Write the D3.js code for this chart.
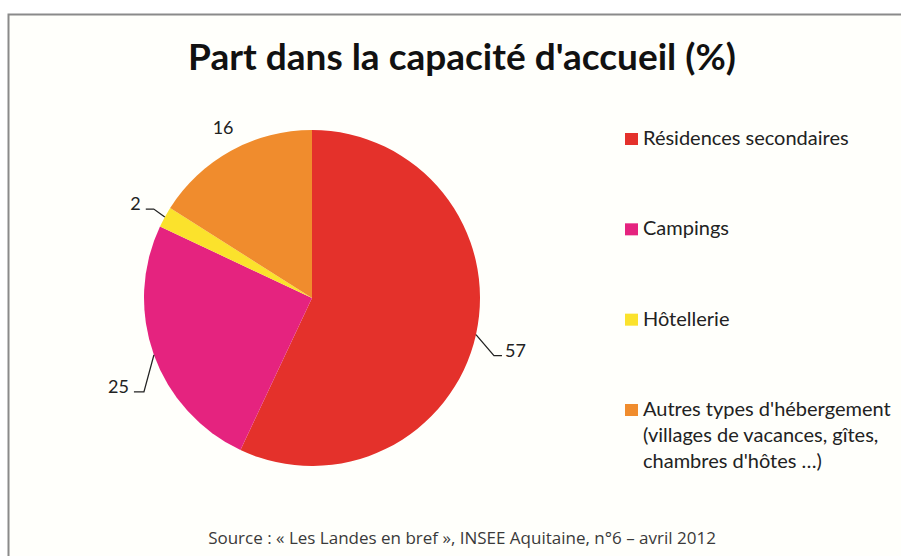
<!DOCTYPE html>
<html>
<head>
<meta charset="utf-8">
<script src="https://cdn.jsdelivr.net/npm/d3@7"></script>
<style>
  body { margin: 0; background: #fff; }
  svg { display: block; }
</style>
</head>
<body>
<div id="chart"></div>
<script>
// data
var categories = ["Résidences secondaires", "Campings", "Hôtellerie", "Autres types d'hébergement"];
var legendNotes = [[], [], [], ["(villages de vacances, gîtes,", "chambres d'hôtes …)"]];
var values = [57, 25, 2, 16];
var colors = ["#e4312b", "#e5237f", "#fbe22c", "#f08c2d"];

var width = 901, height = 556;
var cx = 312, cy = 298, radius = 168;

// label placement relative to the mid point of each slice's arc
var labelPos = [
  {elbow: [18, 21], end: 8, anchor: "start"},
  {elbow: [-10, 37], end: -10, anchor: "end"},
  {elbow: [-11, -8], end: -8, anchor: "end"},
  {elbow: null, text: [-8, -17]}
];

var svg = d3.select("#chart").append("svg")
  .attr("width", width)
  .attr("height", height);

// frame
svg.append("rect")
  .attr("x", 8).attr("y", 14)
  .attr("width", width).attr("height", height)
  .attr("fill", "#fffffb");
svg.append("path")
  .attr("d", "M8.5," + height + "V14.5H" + width)
  .attr("fill", "none")
  .attr("stroke", "#8a8a8a")
  .attr("stroke-width", 2);

// title
svg.append("text")
  .attr("x", 462)
  .attr("y", 70)
  .attr("text-anchor", "middle")
  .attr("font-family", "Lato, sans-serif")
  .attr("font-weight", 700)
  .attr("font-size", 37)
  .attr("fill", "#111")
  .text("Part dans la capacité d'accueil (%)");

var pie = d3.pie().sort(null).value(function(d){ return d; });
var arcs = pie(values);

var arc = d3.arc().innerRadius(0).outerRadius(radius);
var edge = d3.arc().innerRadius(radius).outerRadius(radius);

var pieG = svg.append("g").attr("transform", "translate(" + cx + "," + cy + ")");

pieG.selectAll("path.slice")
  .data(arcs)
  .enter()
  .append("path")
  .attr("class", "slice")
  .attr("d", arc)
  .attr("fill", function(d, i){ return colors[i]; });

// data labels + leader lines
arcs.forEach(function(d, i) {
  var p = edge.centroid(d);
  var lp = labelPos[i];
  if (lp.elbow) {
    var ex = p[0] + lp.elbow[0], ey = p[1] + lp.elbow[1];
    var tx = ex + lp.end;
    pieG.append("path")
      .attr("d", "M" + p[0] + "," + p[1] + "L" + ex + "," + ey + "L" + tx + "," + ey)
      .attr("fill", "none")
      .attr("stroke", "#222")
      .attr("stroke-width", 1.3);
    pieG.append("text")
      .attr("x", tx + (lp.anchor == "start" ? 3 : -5))
      .attr("y", ey + 1)
      .attr("text-anchor", lp.anchor)
      .attr("font-family", "Lato, sans-serif")
      .attr("font-size", 18)
      .attr("fill", "#222")
      .text(values[i]);
  } else {
    pieG.append("text")
      .attr("x", p[0] + lp.text[0])
      .attr("y", p[1] + lp.text[1])
      .attr("text-anchor", "middle")
      .attr("font-family", "Lato, sans-serif")
      .attr("font-size", 18)
      .attr("fill", "#222")
      .text(values[i]);
  }
});

// legend
var legendY = d3.scalePoint()
  .domain(categories)
  .range([145, 416]);

var legend = svg.append("g");
var items = legend.selectAll("g")
  .data(categories)
  .enter()
  .append("g")
  .attr("transform", function(d){ return "translate(625," + legendY(d) + ")"; });

items.append("rect")
  .attr("x", 0)
  .attr("y", -12)
  .attr("width", 13)
  .attr("height", 12)
  .attr("fill", function(d, i){ return colors[i]; });

items.append("text")
  .attr("x", 18)
  .attr("y", 0)
  .attr("font-family", "Lato, sans-serif")
  .attr("font-size", 20)
  .attr("fill", "#222")
  .each(function(d, i) {
    var t = d3.select(this);
    t.append("tspan").attr("x", 18).attr("dy", 0).text(d);
    legendNotes[i].forEach(function(line) {
      t.append("tspan").attr("x", 18).attr("dy", 26).text(line);
    });
  });

// source
svg.append("text")
  .attr("x", 462)
  .attr("y", 544)
  .attr("text-anchor", "middle")
  .attr("font-family", "'Open Sans', sans-serif")
  .attr("font-size", 17)
  .attr("fill", "#3a3a3a")
  .text("Source : « Les Landes en bref », INSEE Aquitaine, n°6 – avril 2012");
</script>
</body>
</html>
